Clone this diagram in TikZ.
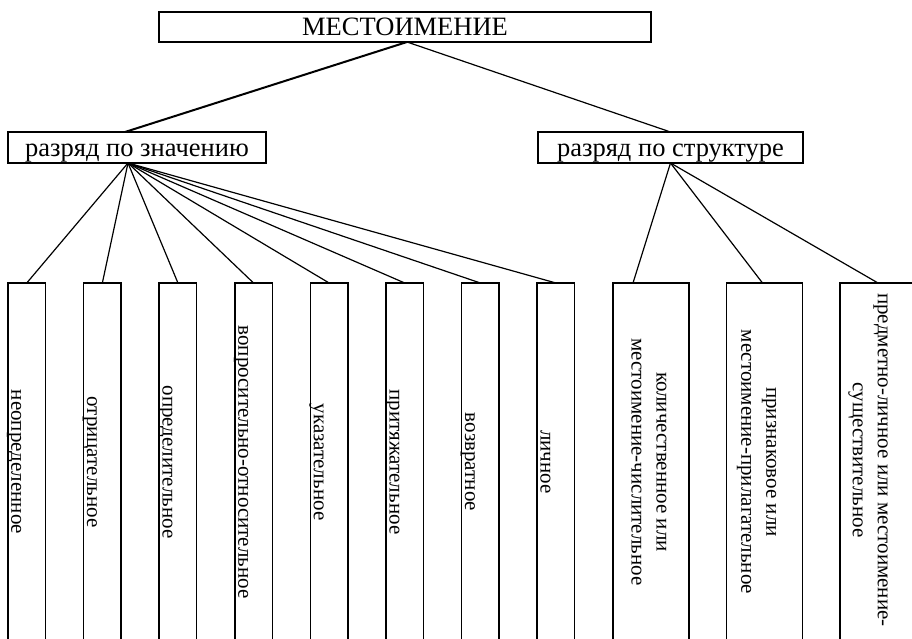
\documentclass[tikz,border=0pt]{standalone}
\usepackage{fontspec}
\setmainfont{Liberation Serif}
\usetikzlibrary{calc}
\begin{document}
\begin{tikzpicture}[x=1pt,y=-1pt,
  box/.style={draw, line width=1.5pt, inner sep=0pt, outer sep=0pt, rectangle},
  htext/.style={font=\fontsize{26.5}{30}\selectfont, text height=18pt, text depth=0pt},
  vbox/.style={box, minimum width=37.5pt, minimum height=358pt},
  wbox/.style={box, minimum width=76pt, minimum height=358pt},
  vtext/.style={font=\fontsize{21}{25}\selectfont, rotate=-90, inner sep=0pt, anchor=base},
  wtext/.style={font=\fontsize{21}{25}\selectfont, rotate=-90, inner sep=0pt, align=center},
  link/.style={line width=1.2pt}]
\useasboundingbox (0,0) rectangle (912,639);
\clip (0,0) rectangle (912,639);
% top levels
\node[box, htext, minimum width=492pt, minimum height=30pt] (top) at (405,27) {МЕСТОИМЕНИЕ};
\node[box, htext, minimum width=258pt, minimum height=31pt] (lb) at (137,147.5) {разряд по значению};
\node[box, htext, minimum width=265pt, minimum height=31pt] (rb) at (670.5,147.5) {разряд по структуре};
% narrow boxes
\node[vbox] (b1) at (26.75,462) {};
\node[vbox] (b2) at (102.35,462) {};
\node[vbox] (b3) at (177.95,462) {};
\node[vbox] (b4) at (253.55,462) {};
\node[vbox] (b5) at (329.15,462) {};
\node[vbox] (b6) at (404.75,462) {};
\node[vbox] (b7) at (480.35,462) {};
\node[vbox] (b8) at (555.95,462) {};
\node[vtext] (t1) at ($(b1.west)+(3.5,0)$) {неопределенное};
\node[vtext] (t2) at ($(b2.west)+(3.5,0)$) {отрицательное};
\node[vtext] (t3) at ($(b3.west)+(3.5,0)$) {определительное};
\node[vtext] (t4) at ($(b4.west)+(3.5,0)$) {вопросительно-относительное};
\node[vtext] (t5) at ($(b5.west)+(3.5,0)$) {указательное};
\node[vtext] (t6) at ($(b6.west)+(3.5,0)$) {притяжательное};
\node[vtext] (t7) at ($(b7.west)+(3.5,0)$) {возвратное};
\node[vtext] (t8) at ($(b8.west)+(3.5,0)$) {личное};
% wide boxes
\node[wbox] (b9) at (651,462) {};
\node[wbox] (b10) at (764.5,462) {};
\node[wbox] (b11) at (878,462) {};
\node[wtext] (t9) at ($(b9.center)+(-2,0)$) {количественное или\\местоимение-числительное};
\node[wtext] (t10) at ($(b10.center)+(-8,0)$) {признаковое или\\местоимение-прилагательное};
\node[wtext] (t11) at ($(b11.center)+(-10,-2)$) {предметно-личное или местоимение-\\существительное};
% connectors
\draw[link, line width=2pt] ([xshift=2pt]top.south) -- ([xshift=-12pt]lb.north);
\draw[link] ([xshift=2pt]top.south) -- (rb.north);
\foreach \i in {1,...,8} {
  \draw[link] ([xshift=-9pt]lb.south) -- (b\i.north);
}
\draw[link] (rb.south) -- ([xshift=-18pt]b9.north);
\draw[link] (rb.south) -- ([xshift=-2pt]b10.north);
\draw[link] (rb.south) -- (b11.north);
\end{tikzpicture}
\end{document}
